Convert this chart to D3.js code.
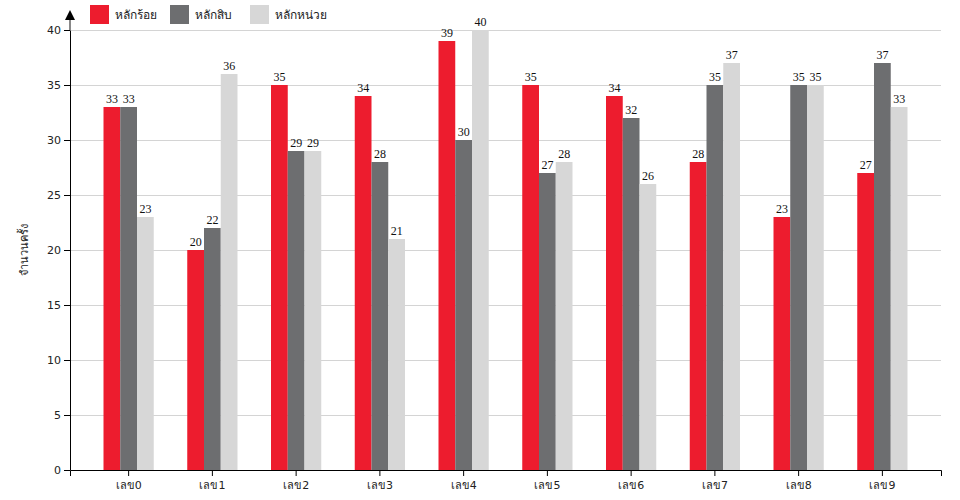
<!DOCTYPE html>
<html>
<head>
<meta charset="utf-8">
<script src="https://cdn.jsdelivr.net/npm/d3@7"></script>
<style>
  body { margin: 0; background: #fff; }
  .axis text { font-family: "DejaVu Sans", sans-serif; font-size: 11px; fill: #222; }
  .grid line { stroke: #d4d4d4; }
  .grid path { display: none; }
</style>
</head>
<body>
<div id="chart"></div>
<script>
// ข้อมูล
const categories = ["เลข0","เลข1","เลข2","เลข3","เลข4","เลข5","เลข6","เลข7","เลข8","เลข9"];
const seriesNames = ["หลักร้อย","หลักสิบ","หลักหน่วย"];
const hundreds = [33,20,35,34,39,35,34,28,23,27];
const tens     = [33,22,29,28,30,27,32,35,35,37];
const units    = [23,36,29,21,40,28,26,37,35,33];
const yTicks = [0,5,10,15,20,25,30,35,40];
const colors = ["#ed1c2e","#6d6e70","#d7d7d7"];

const W = 960, H = 500;
const m = { left: 70, right: 19, top: 30, bottom: 30 };

const svg = d3.select("#chart").append("svg").attr("width", W).attr("height", H);

const x = d3.scaleBand().domain(categories).range([m.left, W - m.right])
  .paddingInner(0.4).paddingOuter(0.4);
const xs = d3.scaleBand().domain(seriesNames).range([0, x.bandwidth()]);
const y = d3.scaleLinear().domain([0, 40]).range([H - m.bottom, m.top]);

// grid
svg.append("g").attr("class", "grid")
  .attr("transform", `translate(${m.left},0)`)
  .call(d3.axisLeft(y).tickValues(yTicks.slice(1)).tickSize(-(W - m.right - m.left)).tickFormat(""));

const rows = categories.map((c, i) => ({ cat: c, vals: [hundreds[i], tens[i], units[i]] }));

const groups = svg.append("g").selectAll("g")
  .data(rows).join("g")
  .attr("transform", d => `translate(${x(d.cat)},0)`);

groups.selectAll("rect")
  .data(d => d.vals.map((v, k) => ({ s: seriesNames[k], v, k })))
  .join("rect")
  .attr("x", d => xs(d.s))
  .attr("y", d => y(d.v))
  .attr("width", xs.bandwidth())
  .attr("height", d => y(0) - y(d.v))
  .attr("fill", d => colors[d.k]);

groups.selectAll("text")
  .data(d => d.vals.map((v, k) => ({ s: seriesNames[k], v, k })))
  .join("text")
  .attr("x", d => xs(d.s) + xs.bandwidth() / 2)
  .attr("y", d => y(d.v) - 4)
  .attr("text-anchor", "middle")
  .attr("font-family", "'Liberation Serif', 'DejaVu Serif', serif")
  .attr("font-size", 12)
  .attr("fill", "#111")
  .text(d => d.v);

// axes
svg.append("g").attr("class", "axis")
  .attr("transform", `translate(0,${H - m.bottom})`)
  .call(d3.axisBottom(x).tickSizeOuter(6))
  .call(g => g.selectAll("text").attr("dy", "0.9em"));

svg.append("g").attr("class", "axis")
  .attr("transform", `translate(${m.left},0)`)
  .call(d3.axisLeft(y).tickValues(yTicks).tickSizeOuter(0));

// ลูกศรปลายแกน y
svg.append("line").attr("x1", m.left).attr("x2", m.left)
  .attr("y1", m.top).attr("y2", 19).attr("stroke", "#888").attr("stroke-width", 2);
svg.append("path")
  .attr("d", `M${m.left - 5},20 L${m.left + 5},20 L${m.left},10 Z`)
  .attr("fill", "#000");

// y label
svg.append("text")
  .attr("transform", `translate(28,${(m.top + H - m.bottom) / 2}) rotate(-90)`)
  .attr("text-anchor", "middle")
  .attr("font-family", "'Noto Sans', 'DejaVu Sans', sans-serif")
  .attr("font-size", 11)
  .attr("fill", "#222")
  .text("จำนวนครั้ง");

// legend
const leg = svg.append("g").selectAll("g")
  .data(seriesNames).join("g")
  .attr("transform", (d, i) => `translate(${90 + i * 80},5)`);
leg.append("rect").attr("width", 19).attr("height", 19).attr("fill", (d, i) => colors[i]);
leg.append("text").attr("x", 25).attr("y", 14)
  .attr("font-family", "'Noto Sans', 'DejaVu Sans', sans-serif")
  .attr("font-size", 12).attr("fill", "#222")
  .text(d => d);
</script>
</body>
</html>
